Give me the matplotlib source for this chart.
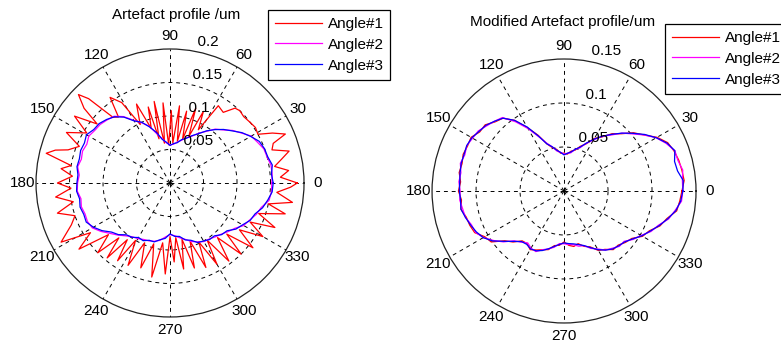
import matplotlib

matplotlib.use("Agg")
import matplotlib.pyplot as plt
import numpy as np

plt.rcParams["font.family"] = ["Liberation Sans", "DejaVu Sans"]
plt.rcParams["font.size"] = 11

# angles (deg) shared by the smoother profiles, 5 deg sampling
SMOOTH_ANGLES = list(range(0, 360, 5))

# the spiky Angle#1 profile of the left plot, read vertex by vertex
LEFT_ANGLE1_DEG = [
    0, 3, 6, 9, 12, 15, 18, 21, 23, 26,
    29, 33, 37, 42, 46, 49, 53, 58, 62, 65,
    68, 71, 74, 77, 80, 83, 86, 89, 92, 95,
    98, 101, 104, 106, 109, 113, 117, 121, 125, 128,
    131, 134, 136, 139, 141, 145, 149, 154, 158, 162,
    164, 166.5, 170, 172.5, 176, 180, 183, 187, 191, 195,
    199, 203, 208.5, 212, 216, 220, 224, 227, 230, 233,
    236, 239, 243, 247, 251, 255, 259, 263, 267, 270,
    273, 276, 279, 282, 286, 289, 293, 296, 300, 303,
    307, 311, 315, 318, 322, 326, 330, 334, 337, 341,
    345, 348, 351, 355, 358,
]
LEFT_ANGLE1 = [
    0.190, 0.165, 0.178, 0.158, 0.170, 0.184, 0.160, 0.165, 0.187, 0.170,
    0.150, 0.152, 0.150, 0.148, 0.150, 0.148, 0.132, 0.136, 0.090, 0.118,
    0.075, 0.118, 0.068, 0.110, 0.063, 0.116, 0.060, 0.108, 0.057, 0.120,
    0.060, 0.124, 0.068, 0.118, 0.086, 0.128, 0.098, 0.140, 0.156, 0.125,
    0.130, 0.175, 0.190, 0.170, 0.140, 0.174, 0.145, 0.172, 0.146, 0.160,
    0.178, 0.190, 0.150, 0.164, 0.146, 0.168, 0.148, 0.172, 0.147, 0.174,
    0.150, 0.160, 0.185, 0.140, 0.168, 0.120, 0.150, 0.112, 0.146, 0.106,
    0.140, 0.100, 0.138, 0.097, 0.134, 0.094, 0.143, 0.090, 0.136, 0.080,
    0.118, 0.082, 0.130, 0.086, 0.132, 0.092, 0.137, 0.098, 0.140, 0.102,
    0.146, 0.108, 0.150, 0.114, 0.157, 0.125, 0.160, 0.133, 0.170, 0.140,
    0.178, 0.150, 0.185, 0.160, 0.180,
]
LEFT_ANGLE2 = [
    0.152, 0.153, 0.153, 0.150, 0.149, 0.144, 0.140, 0.130, 0.122, 0.112,
    0.105, 0.094, 0.086, 0.077, 0.072, 0.066, 0.062, 0.058, 0.057, 0.060,
    0.067, 0.076, 0.090, 0.099, 0.108, 0.121, 0.130, 0.133, 0.136, 0.137,
    0.140, 0.137, 0.139, 0.137, 0.140, 0.136, 0.138, 0.139, 0.135, 0.137,
    0.135, 0.136, 0.134, 0.126, 0.117, 0.110, 0.103, 0.098, 0.096, 0.093,
    0.092, 0.090, 0.087, 0.081, 0.077, 0.079, 0.083, 0.087, 0.093, 0.097,
    0.101, 0.102, 0.105, 0.108, 0.113, 0.118, 0.127, 0.131, 0.137, 0.141,
    0.150, 0.152,
]
LEFT_ANGLE3 = [
    0.154, 0.152, 0.155, 0.151, 0.150, 0.147, 0.139, 0.131, 0.121, 0.113,
    0.104, 0.095, 0.085, 0.078, 0.071, 0.067, 0.061, 0.059, 0.056, 0.061,
    0.066, 0.078, 0.089, 0.100, 0.107, 0.120, 0.129, 0.134, 0.138, 0.139,
    0.144, 0.141, 0.142, 0.140, 0.141, 0.138, 0.139, 0.140, 0.137, 0.139,
    0.137, 0.138, 0.132, 0.124, 0.114, 0.109, 0.101, 0.099, 0.094, 0.095,
    0.091, 0.091, 0.086, 0.083, 0.076, 0.080, 0.081, 0.088, 0.091, 0.098,
    0.100, 0.103, 0.103, 0.109, 0.111, 0.120, 0.125, 0.132, 0.135, 0.143,
    0.148, 0.153,
]

RIGHT_ANGLE1 = [
    0.134, 0.137, 0.136, 0.135, 0.133, 0.130, 0.122, 0.111, 0.103, 0.092,
    0.085, 0.075, 0.069, 0.059, 0.054, 0.048, 0.046, 0.042, 0.043, 0.043,
    0.048, 0.051, 0.057, 0.070, 0.083, 0.098, 0.108, 0.111, 0.117, 0.117,
    0.122, 0.121, 0.122, 0.120, 0.121, 0.118, 0.120, 0.117, 0.119, 0.115,
    0.114, 0.112, 0.104, 0.101, 0.088, 0.082, 0.074, 0.073, 0.077, 0.074,
    0.071, 0.069, 0.063, 0.062, 0.058, 0.062, 0.064, 0.062, 0.067, 0.070,
    0.078, 0.081, 0.087, 0.087, 0.091, 0.094, 0.103, 0.107, 0.116, 0.121,
    0.130, 0.132,
]
RIGHT_ANGLE2 = [
    0.135, 0.135, 0.137, 0.134, 0.134, 0.128, 0.121, 0.111, 0.101, 0.093,
    0.083, 0.076, 0.067, 0.060, 0.052, 0.049, 0.044, 0.043, 0.042, 0.044,
    0.046, 0.052, 0.058, 0.068, 0.082, 0.096, 0.109, 0.112, 0.115, 0.119,
    0.120, 0.122, 0.120, 0.122, 0.119, 0.120, 0.118, 0.119, 0.117, 0.116,
    0.112, 0.111, 0.106, 0.098, 0.090, 0.080, 0.076, 0.072, 0.075, 0.076,
    0.071, 0.068, 0.065, 0.060, 0.060, 0.061, 0.062, 0.065, 0.066, 0.072,
    0.076, 0.082, 0.085, 0.089, 0.089, 0.096, 0.101, 0.109, 0.114, 0.123,
    0.128, 0.134,
]
RIGHT_ANGLE3 = [
    0.135, 0.136, 0.131, 0.130, 0.134, 0.129, 0.121, 0.112, 0.102, 0.093,
    0.084, 0.076, 0.068, 0.060, 0.053, 0.049, 0.045, 0.043, 0.041, 0.044,
    0.047, 0.052, 0.057, 0.069, 0.084, 0.098, 0.108, 0.112, 0.116, 0.118,
    0.121, 0.122, 0.121, 0.121, 0.120, 0.119, 0.119, 0.118, 0.119, 0.116,
    0.113, 0.110, 0.106, 0.099, 0.089, 0.081, 0.075, 0.074, 0.076, 0.075,
    0.072, 0.068, 0.064, 0.061, 0.059, 0.060, 0.061, 0.063, 0.066, 0.071,
    0.077, 0.082, 0.086, 0.088, 0.090, 0.095, 0.102, 0.108, 0.115, 0.122,
    0.129, 0.133,
]

LABELS = ["Angle#1", "Angle#2", "Angle#3"]
COLORS = ["#ff0000", "#ff00ff", "#0000ff"]


def closed(angles, radii):
    th = np.deg2rad(np.append(angles, angles[0] + 360))
    return th, np.append(radii, radii[0])


def matlab_polar(fig, rect, rmax, rings, series, title, title_xy, legend_xy):
    ax = fig.add_axes(rect, projection="polar")
    for (angles, radii), color, label in zip(series, COLORS, LABELS):
        th, r = closed(angles, radii)
        ax.plot(th, r, color=color, linewidth=0.9, label=label)

    ax.set_ylim(0, rmax)
    ax.set_yticks(rings)
    ax.set_yticklabels([])
    ax.set_xticks(np.deg2rad(np.arange(0, 360, 30)))
    ax.set_xticklabels([])
    ax.grid(True, color="k", linestyle=(0, (4, 4)), linewidth=0.7)
    ax.spines["polar"].set_color("#222222")
    ax.spines["polar"].set_linewidth(0.9)

    # angle labels at 1.1 * rmax, ring labels along the 82 deg ray
    for ang in range(0, 360, 30):
        ax.text(np.deg2rad(ang), 1.1 * rmax, str(ang), ha="center", va="center", clip_on=False)
    rinc = rings[0]
    for r in list(rings) + [rmax]:
        ax.text(np.deg2rad(82), r + rinc / 20, f"  {r:g}", ha="left", va="bottom", clip_on=False)

    fig.text(title_xy[0], title_xy[1], title, ha="center", va="center")
    ax.legend(
        loc="upper left",
        bbox_to_anchor=legend_xy,
        bbox_transform=fig.transFigure,
        fancybox=False,
        framealpha=1,
        edgecolor="k",
        borderpad=0.45,
        labelspacing=0.45,
        handlelength=3.1,
        handletextpad=0.35,
        borderaxespad=0,
    )
    ax.get_legend().get_frame().set_linewidth(0.9)
    return ax


fig = plt.figure(figsize=(7.81, 3.45), dpi=100)

matlab_polar(
    fig,
    [0.0461, 0.0812, 0.3432, 0.7768],
    0.2,
    [0.05, 0.1, 0.15],
    [(LEFT_ANGLE1_DEG, LEFT_ANGLE1), (SMOOTH_ANGLES, LEFT_ANGLE2), (SMOOTH_ANGLES, LEFT_ANGLE3)],
    "Artefact profile /um",
    (176 / 781, 1 - 15 / 345),
    (268 / 781, 1 - 10 / 345),
)
matlab_polar(
    fig,
    [0.5532, 0.0638, 0.3380, 0.7652],
    0.15,
    [0.05, 0.1],
    [(SMOOTH_ANGLES, RIGHT_ANGLE1), (SMOOTH_ANGLES, RIGHT_ANGLE2), (SMOOTH_ANGLES, RIGHT_ANGLE3)],
    "Modified Artefact profile/um",
    (563 / 781, 1 - 22 / 345),
    (665 / 781, 1 - 24 / 345),
)

fig.savefig("out.png", dpi=100)
